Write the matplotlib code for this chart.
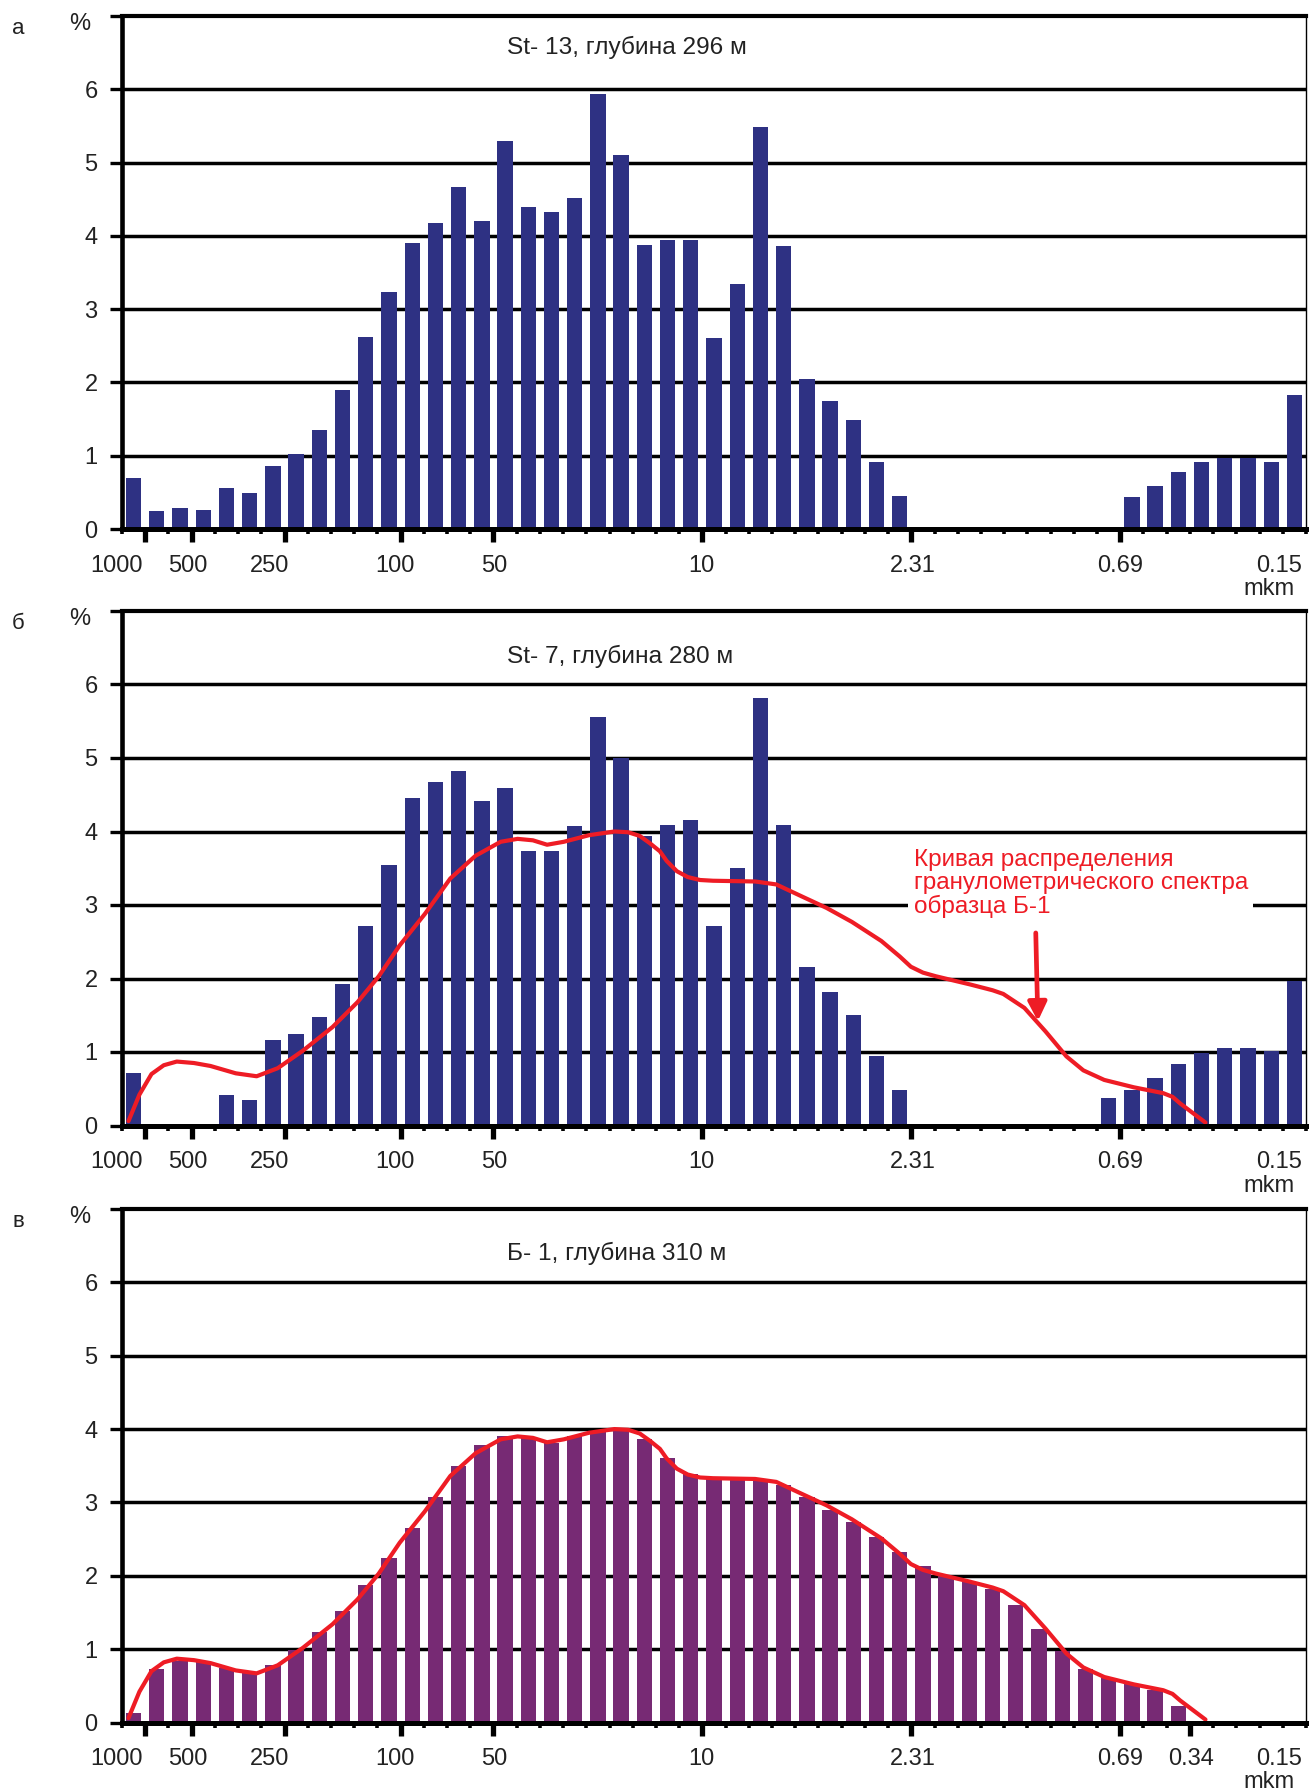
import matplotlib
matplotlib.use("Agg")
import matplotlib.pyplot as plt
from matplotlib.transforms import blended_transform_factory

plt.rcParams['font.family'] = ['Liberation Sans', 'DejaVu Sans']

# ---------------- data ----------------
n_bins = 51
top_values = [0.69, 0.24, 0.28, 0.26, 0.56, 0.49, 0.86, 1.02, 1.35, 1.90,
              2.62, 3.24, 3.90, 4.17, 4.67, 4.20, 5.29, 4.39, 4.33, 4.51,
              5.93, 5.11, 3.87, 3.94, 3.94, 2.60, 3.34, 5.48, 3.86, 2.05,
              1.75, 1.49, 0.92, 0.45, 0, 0, 0, 0, 0, 0,
              0, 0, 0, 0.43, 0.58, 0.78, 0.92, 0.97, 0.97, 0.92,
              1.83]
middle_values = [0.72, 0, 0, 0, 0.41, 0.35, 1.17, 1.25, 1.47, 1.93,
                 2.71, 3.55, 4.45, 4.67, 4.82, 4.41, 4.59, 3.73, 3.74, 4.07,
                 5.56, 5.00, 3.94, 4.09, 4.15, 2.72, 3.51, 5.82, 4.09, 2.15,
                 1.81, 1.50, 0.95, 0.48, 0, 0, 0, 0, 0, 0,
                 0, 0, 0.37, 0.48, 0.65, 0.84, 0.98, 1.06, 1.06, 1.01,
                 1.96]
bottom_values = [0.13, 0.73, 0.84, 0.82, 0.74, 0.67, 0.78, 0.99, 1.23, 1.52,
                 1.87, 2.24, 2.65, 3.08, 3.49, 3.78, 3.90, 3.89, 3.81, 3.90,
                 3.97, 3.99, 3.86, 3.61, 3.39, 3.33, 3.33, 3.31, 3.24, 3.08,
                 2.90, 2.73, 2.53, 2.33, 2.13, 2.00, 1.91, 1.82, 1.60, 1.28,
                 0.97, 0.73, 0.60, 0.52, 0.44, 0.23, 0, 0, 0, 0,
                 0]

# distribution curve of sample Б-1 (position in bin units, percent)
curve_pos = [-0.22, 0.25, 0.77, 1.30, 1.86, 2.60, 3.31, 4.40, 5.30, 6.21,
             7.30, 8.57, 9.65, 10.56, 11.46, 12.55, 13.64, 14.73, 15.81, 16.54,
             17.20, 17.81, 18.53, 19.62, 20.71, 21.30, 21.80, 22.24, 22.67, 22.96,
             23.40, 23.87, 24.40, 24.96, 26.77, 27.68, 28.76, 29.85, 30.94, 32.21,
             33.00, 33.48, 34.00, 34.56, 36.02, 37.00, 37.46, 38.37, 39.28, 40.18,
             40.91, 41.81, 43.08, 44.35, 44.75, 45.08, 46.17]
curve_val = [0.06, 0.42, 0.70, 0.82, 0.87, 0.85, 0.81, 0.71, 0.67, 0.78,
             1.02, 1.34, 1.68, 2.03, 2.45, 2.88, 3.36, 3.67, 3.86, 3.90,
             3.88, 3.82, 3.86, 3.95, 4.00, 3.99, 3.94, 3.84, 3.73, 3.60,
             3.46, 3.38, 3.34, 3.33, 3.32, 3.28, 3.12, 2.96, 2.77, 2.51,
             2.30, 2.16, 2.08, 2.03, 1.92, 1.84, 1.79, 1.60, 1.28, 0.94,
             0.75, 0.62, 0.52, 0.44, 0.39, 0.30, 0.04]

size_labels_ab = ['1000', '500', '250', '100', '50', '10', '2.31', '0.69', '0.15']
size_labels_c = ['1000', '500', '250', '100', '50', '10', '2.31', '0.69', '0.34', '0.15']
y_ticks = [0, 1, 2, 3, 4, 5, 6]

titles = ['St- 13, глубина 296 м', 'St- 7, глубина 280 м', 'Б- 1, глубина 310 м']
panel_letters = ['а', 'б', 'в']
annotation_text = 'Кривая распределения\nгранулометрического спектра\nобразца Б-1'

# ---------------- layout / style ----------------
NAVY = '#2e3183'
PURPLE = '#772a74'
RED = '#ee1c25'
FS = 17
TEXT_C = '#222222'

# tick positions (bin boundaries) and label positions for x axis
major_ab = [0.5, 2.5, 6.5, 11.5, 15.5, 24.5, 33.5, 42.5]
label_pos_ab = [-0.72, 2.33, 5.87, 11.24, 15.54, 24.46, 33.56, 42.5, 49.33]
major_c = [0.5, 2.5, 6.5, 11.5, 15.5, 24.5, 33.5, 42.5, 45.5]
label_pos_c = [-0.72, 2.33, 5.87, 11.24, 15.54, 24.46, 33.56, 42.5, 45.54, 49.33]

W, H = 1309, 1791
fig = plt.figure(figsize=(W / 100, H / 100), dpi=100)

left_px, right_px = 122, 1306
panels_px = [(16, 529), (611, 1125.5), (1209, 1722.5)]
title_y = [6.48, 6.29, 6.30]


def make_axes(top, bottom):
    return fig.add_axes([left_px / W, 1 - bottom / H, (right_px - left_px) / W, (bottom - top) / H])


def draw_panel(ax, values, color, labels, label_pos, majors, title, ty, letter):
    x = list(range(n_bins))
    ax.set_xlim(-0.5, n_bins - 0.5)
    ax.set_ylim(0, 7)
    for yv in range(1, 7):
        ax.axhline(yv, color='black', lw=2.5, zorder=1)
    ax.bar(x, values, width=0.66, color=color, zorder=2)

    for s in ['top', 'bottom', 'left', 'right']:
        ax.spines[s].set_color('black')
    ax.spines['top'].set_linewidth(3.0)
    ax.spines['bottom'].set_linewidth(3.6)
    ax.spines['left'].set_linewidth(3.3)
    ax.spines['right'].set_linewidth(1.0)
    for s in ax.spines.values():
        s.set_zorder(5)

    ax.set_yticks(list(range(0, 8)))
    ax.set_yticklabels([str(v) for v in y_ticks] + [''])
    ax.tick_params(axis='y', direction='out', length=8.5, width=2.4, pad=9,
                   labelsize=FS, labelcolor=TEXT_C)

    ax.set_xticks(majors)
    ax.set_xticklabels([])
    ax.set_xticks([k + 0.5 for k in range(-1, n_bins)], minor=True)
    ax.tick_params(axis='x', which='major', direction='out', length=9, width=3.8)
    ax.tick_params(axis='x', which='minor', direction='out', length=3.6, width=2.6)

    for lab, pos in zip(labels, label_pos):
        ax.annotate(lab, xy=(pos, 0), xycoords=('data', 'axes fraction'),
                    xytext=(0, -42.5), textcoords='offset pixels',
                    ha='center', va='baseline', fontsize=FS, color=TEXT_C,
                    annotation_clip=False)
    ax.annotate('mkm', xy=(49.33, 0), xycoords=('data', 'axes fraction'),
                xytext=(-10, -66), textcoords='offset pixels',
                ha='center', va='baseline', fontsize=FS, color=TEXT_C,
                annotation_clip=False)

    ax.text(16.08, ty, title, ha='left', va='baseline', fontsize=FS + 0.6, color=TEXT_C, zorder=6)

    # percent sign and panel letter at top-left
    trans = blended_transform_factory(fig.transFigure, ax.transAxes)
    ax.text(80 / W, 0.985, '%', transform=trans, ha='center', va='center', fontsize=FS, color=TEXT_C)
    ax.text(18 / W, 0.975, letter, transform=trans, ha='center', va='center', fontsize=FS - 1, color=TEXT_C)


axes = [make_axes(t, b) for t, b in panels_px]

draw_panel(axes[0], top_values, NAVY, size_labels_ab, label_pos_ab, major_ab, titles[0], title_y[0], panel_letters[0])
draw_panel(axes[1], middle_values, NAVY, size_labels_ab, label_pos_ab, major_ab, titles[1], title_y[1], panel_letters[1])
draw_panel(axes[2], bottom_values, PURPLE, size_labels_c, label_pos_c, major_c, titles[2], title_y[2], panel_letters[2])

for ax in axes[1:]:
    ax.plot(curve_pos, curve_val, color=RED, lw=3.0, zorder=4,
            solid_capstyle='round', solid_joinstyle='round')

ax = axes[1]
ax.text(33.6, 2.89, annotation_text, ha='left', va='baseline', fontsize=FS + 0.5, color=RED,
        linespacing=1.05, zorder=6,
        bbox=dict(facecolor='white', edgecolor='none', pad=4))
ax.annotate('', xy=(38.95, 1.42), xytext=(38.86, 2.62),
            arrowprops=dict(arrowstyle='-|>', color=RED, lw=3.4, mutation_scale=28,
                            shrinkA=0, shrinkB=0),
            zorder=6)

fig.savefig('out.png', dpi=100)
